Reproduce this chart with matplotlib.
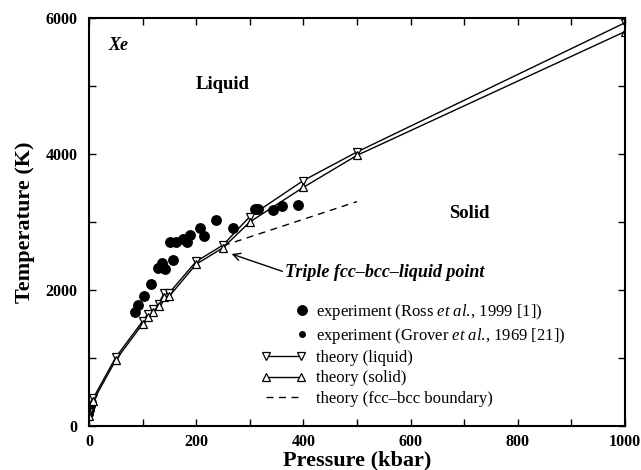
import matplotlib
matplotlib.use("Agg")
import matplotlib.pyplot as plt
from matplotlib.legend_handler import HandlerLine2D
import numpy as np

plt.rcParams["font.family"] = ["Liberation Serif", "DejaVu Serif"]
plt.rcParams["mathtext.fontset"] = "custom"
plt.rcParams["mathtext.it"] = "Liberation Serif:italic"
plt.rcParams["mathtext.rm"] = "Liberation Serif"

# experiment, Ross et al. 1999 (kbar, K)
ross_p = [85, 92, 103, 116, 129, 137, 141, 152, 157, 162, 175, 182, 188,
          208, 215, 237, 269, 310, 316, 344, 360, 390]
ross_t = [1670, 1780, 1910, 2085, 2330, 2400, 2310, 2700, 2440, 2700, 2750,
          2700, 2810, 2910, 2800, 3030, 2910, 3190, 3190, 3180, 3240, 3250]

# experiment, Grover et al. 1969 (low pressure, hidden under theory markers)
grover_p = [1, 3, 5, 7]
grover_t = [170, 230, 290, 350]

# theory
theo_p = [0, 8, 50, 100, 110, 120, 130, 140, 150, 200, 250, 300, 400, 500, 1000]
liquid_t = [200, 410, 1010, 1540, 1650, 1720, 1800, 1950, 1960, 2420, 2660,
            3080, 3610, 4030, 5930]
solid_t = [150, 370, 970, 1500, 1600, 1680, 1760, 1900, 1910, 2380, 2620,
           3000, 3510, 3980, 5800]

# fcc-bcc boundary
bnd_p = [250, 500]
bnd_t = [2650, 3300]


class RightDot(HandlerLine2D):
    """legend dot sits at the right end of the handle, like the original"""
    def get_xdata(self, legend, xdescent, ydescent, width, height, fontsize):
        x = np.array([-xdescent + width * 0.91])
        return x, x


fig = plt.figure(figsize=(6.41, 4.70), dpi=100)
ax = fig.add_axes([0.1388, 0.0936, 0.8362, 0.8681])

h_ross, = ax.plot(ross_p, ross_t, "o", color="black", ms=6.8, ls="none",
                  label=r"experiment (Ross $\it{et\ al.}\!\mathrm{,}$ 1999 [1])")
h_grov, = ax.plot(grover_p, grover_t, "o", color="black", ms=4, ls="none",
                  label=r"experiment (Grover $\it{et\ al.}\!\mathrm{,}$ 1969 [21])")
ax.plot(theo_p, liquid_t, "-", color="black", lw=1.0, marker="v", ms=6,
        mfc="white", mec="black", mew=0.9, label="theory (liquid)")
ax.plot(theo_p, solid_t, "-", color="black", lw=1.0, marker="^", ms=6,
        mfc="white", mec="black", mew=0.9, label="theory (solid)")
ax.plot(bnd_p, bnd_t, "--", color="black", lw=1.0, dashes=(5, 4),
        label="theory (fcc\u2013bcc boundary)")

ax.set_xlim(0, 1000)
ax.set_ylim(0, 6000)
ax.set_xticks(np.arange(0, 1001, 200))
ax.set_xticks(np.arange(0, 1001, 100), minor=True)
ax.set_yticks(np.arange(0, 6001, 2000))
ax.set_yticks(np.arange(0, 6001, 1000), minor=True)
ax.tick_params(which="both", direction="in", top=True, right=True,
               labelsize=11.5, width=1.0, length=5)
ax.tick_params(axis="y", pad=8)
ax.tick_params(axis="x", pad=6)
for lab in ax.get_xticklabels() + ax.get_yticklabels():
    lab.set_fontweight("bold")
for s in ax.spines.values():
    s.set_linewidth(1.5)

ax.set_xlabel("Pressure (kbar)", fontsize=16, fontweight="bold", labelpad=0)
ax.set_ylabel("Temperature (K)", fontsize=16, fontweight="bold", labelpad=8)

ax.text(37, 5600, "Xe", fontsize=13, fontweight="bold", style="italic",
        va="center")
ax.text(250, 5020, "Liquid", fontsize=13.5, fontweight="bold",
        ha="center", va="center")
ax.text(710, 3130, "Solid", fontsize=13.5, fontweight="bold",
        ha="center", va="center")
ax.annotate("Triple fcc\u2013bcc\u2013liquid point", xy=(266, 2530),
            xytext=(366, 2260), fontsize=13, fontweight="bold", style="italic",
            va="center", ha="left",
            arrowprops=dict(arrowstyle="->", color="black", lw=1.0,
                            shrinkA=0, shrinkB=0, relpos=(0, 0.5)))

ax.legend(loc="lower left", bbox_to_anchor=(0.305, 0.027), frameon=False,
          fontsize=12, handlelength=2.7, handletextpad=0.6,
          labelspacing=0.25, borderpad=0, numpoints=2,
          handler_map={h_ross: RightDot(numpoints=2),
                       h_grov: RightDot(numpoints=2)})

fig.savefig("out.png", dpi=100)
